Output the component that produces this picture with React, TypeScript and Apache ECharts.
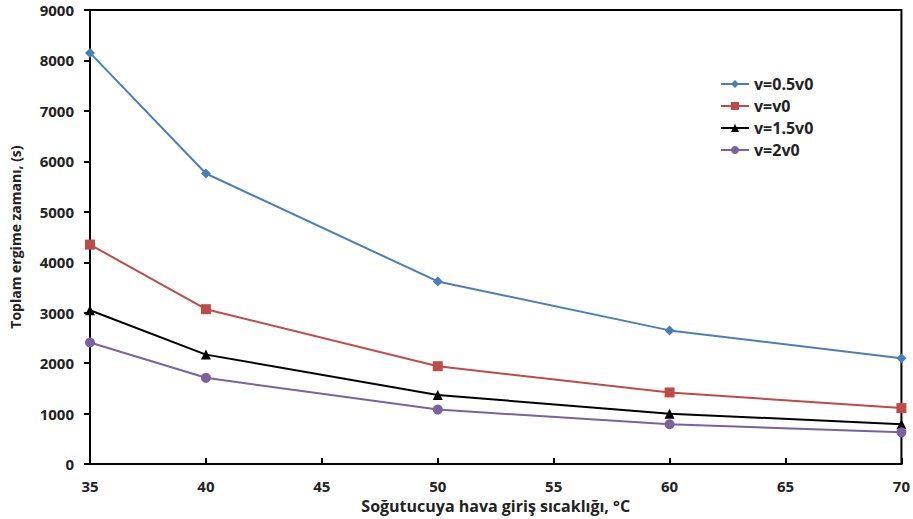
import React, { useEffect, useRef } from "react";
import * as echarts from "echarts";

const temperatures = [35, 40, 50, 60, 70];
const seriesNames = ["v=0.5v0", "v=v0", "v=1.5v0", "v=2v0"];
const vHalf = [8150, 5760, 3620, 2650, 2100];
const vOne = [4350, 3070, 1940, 1420, 1110];
const vOneHalf = [3050, 2170, 1370, 1000, 790];
const vTwo = [2410, 1710, 1080, 790, 630];
const colors = ["#4a7ebb", "#be4b48", "#000000", "#7d60a0"];
const symbols = ["diamond", "rect", "triangle", "circle"];
const symbolSizes = [10, 10, 10, 10];

export default function App() {
  const ref = useRef<HTMLDivElement>(null);
  useEffect(() => {
    document.body.style.margin = "0";
    if (!ref.current) return;
    const chart = echarts.init(ref.current, null, { renderer: "svg" });
    const all = [vHalf, vOne, vOneHalf, vTwo];
    const font = "'Open Sans', 'DejaVu Sans', sans-serif";
    chart.setOption({
      animation: false,
      backgroundColor: "#ffffff",
      grid: {
        left: 88,
        right: 11,
        top: 10,
        bottom: 54,
        show: true,
        borderColor: "#000",
        borderWidth: 2,
        backgroundColor: "transparent",
      },
      legend: {
        orient: "vertical",
        left: 715,
        top: 71,
        itemWidth: 28,
        itemHeight: 10,
        itemGap: 6,
        data: seriesNames,
        textStyle: { fontFamily: font, fontSize: 16, fontWeight: "bold", color: "#222" },
      },
      xAxis: {
        type: "value",
        min: 35,
        max: 70,
        interval: 5,
        name: "Soğutucuya hava giriş sıcaklığı, °C",
        nameLocation: "middle",
        nameGap: 33,
        nameTextStyle: { fontFamily: font, fontSize: 16, fontWeight: "bold", color: "#222" },
        axisLine: { lineStyle: { color: "#000", width: 2 } },
        axisTick: { inside: true, length: 6, lineStyle: { color: "#000", width: 2 } },
        axisLabel: { margin: 14, fontFamily: font, fontSize: 15, fontWeight: "bold", color: "#222" },
        splitLine: { show: false },
      },
      yAxis: {
        type: "value",
        min: 0,
        max: 9000,
        interval: 1000,
        name: "Toplam ergime zamanı, (s)",
        nameLocation: "middle",
        nameGap: 68,
        nameTextStyle: { fontFamily: font, fontSize: 14, fontWeight: "bold", color: "#222" },
        axisLine: { lineStyle: { color: "#000", width: 2 } },
        axisTick: { inside: false, length: 6, lineStyle: { color: "#000", width: 2 } },
        axisLabel: {
          margin: 16,
          fontFamily: font,
          fontSize: 15,
          fontWeight: "bold",
          color: "#222",
          formatter: (v: number) => String(v),
        },
        splitLine: { show: false },
      },
      series: seriesNames.map((name, i) => ({
        name,
        type: "line",
        data: temperatures.map((t, j) => [t, all[i][j]]),
        symbol: symbols[i],
        symbolSize: symbolSizes[i],
        showAllSymbol: true,
        lineStyle: { color: colors[i], width: 2 },
        itemStyle: { color: colors[i] },
        clip: false,
      })),
    });
    return () => chart.dispose();
  }, []);
  return <div ref={ref} style={{ width: 913, height: 519 }} />;
}
